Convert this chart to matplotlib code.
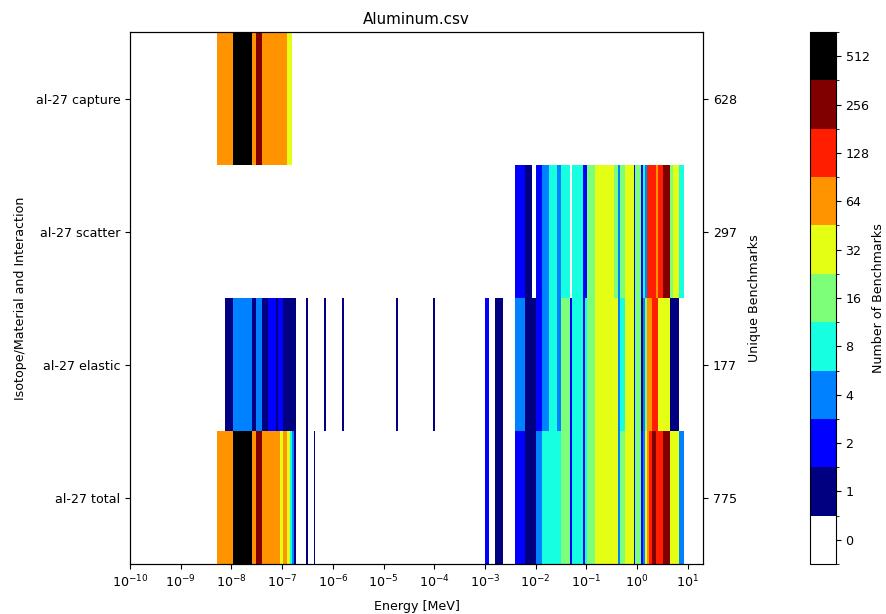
import numpy as np
import matplotlib
matplotlib.use("Agg")
from matplotlib import pyplot as plt
from matplotlib.colors import ListedColormap, BoundaryNorm
from matplotlib.ticker import LogLocator, NullLocator

plt.rcParams['font.size'] = 9.1

# rows from bottom to top
row_names = ["al-27 total", "al-27 elastic", "al-27 scatter", "al-27 capture"]
unique_benchmarks = ["775", "177", "297", "628"]

# energy bin edges [MeV] and benchmark counts per bin (0 = no data)
total_edges = [5.2e-9, 1.06e-8, 2.6e-8, 3.1e-8, 4.0e-8, 9.2e-8, 1.05e-7, 1.26e-7,
               1.45e-7, 1.58e-7, 1.73e-7, 1.89e-7, 3.0e-7, 3.3e-7, 4.2e-7, 4.5e-7,
               9.8e-4, 1.21e-3, 1.59e-3, 2.29e-3, 4.0e-3, 6.1e-3, 1.0e-2, 1.35e-2,
               3.1e-2, 4.7e-2, 5.1e-2, 8.7e-2, 9.2e-2, 0.101, 0.149, 0.43, 0.47,
               0.57, 0.86, 0.92, 1.21, 1.29, 1.41, 1.55, 1.70, 1.94, 2.38, 3.2,
               4.4, 6.6, 8.3]
total_counts = [80, 700, 90, 300, 90, 40, 70, 40, 10, 5, 1, 0, 1, 0, 1, 0,
                2, 0, 1, 0, 2, 1, 5, 10, 20, 2, 10, 2, 10, 20, 40, 5,
                20, 40, 2, 20, 2, 5, 40, 70, 150, 300, 150, 300, 40, 5]

elastic_edges = [7.6e-9, 1.06e-8, 2.6e-8, 3.1e-8, 4.0e-8, 5.3e-8, 7.6e-8, 8.4e-8,
                 1.05e-7, 1.85e-7, 3.0e-7, 3.3e-7, 6.8e-7, 7.4e-7, 1.53e-6, 1.68e-6,
                 1.79e-5, 1.96e-5, 9.6e-5, 1.05e-4, 9.8e-4, 1.21e-3, 1.59e-3, 2.29e-3,
                 4.0e-3, 6.1e-3, 1.0e-2, 1.35e-2, 1.80e-2, 2.6e-2, 3.1e-2, 4.7e-2,
                 5.1e-2, 8.7e-2, 9.2e-2, 0.101, 0.149, 0.43, 0.47, 0.57, 0.86, 0.92,
                 1.21, 1.29, 1.41, 1.55, 1.94, 2.61, 4.4, 6.6]
elastic_counts = [1, 5, 1, 5, 1, 2, 1, 2, 1, 0, 1, 0, 1, 0, 1, 0,
                  1, 0, 1, 0, 2, 0, 1, 0, 5, 1, 2, 5, 10, 5, 20, 2,
                  10, 2, 10, 20, 40, 5, 10, 40, 2, 20, 1, 5, 20, 70, 150, 40, 1]

scatter_edges = [4.0e-3, 6.1e-3, 8.3e-3, 1.0e-2, 1.35e-2, 1.80e-2, 2.6e-2, 3.1e-2,
                 4.7e-2, 5.3e-2, 8.7e-2, 0.101, 0.149, 0.345, 0.43, 0.47, 0.57,
                 0.86, 0.92, 1.21, 1.29, 1.41, 1.55, 2.38, 2.61, 3.2, 4.4, 5.05,
                 6.6, 8.3]
scatter_counts = [2, 1, 0, 2, 5, 10, 5, 10, 0, 10, 2, 20, 40, 20, 5, 20, 40,
                  2, 20, 2, 10, 5, 150, 70, 150, 300, 20, 40, 10]

capture_edges = [5.2e-9, 1.06e-8, 2.6e-8, 3.1e-8, 4.0e-8, 1.26e-7, 1.58e-7]
capture_counts = [80, 560, 90, 300, 90, 40]

rows_edges = [total_edges, elastic_edges, scatter_edges, capture_edges]
rows_counts = [total_counts, elastic_counts, scatter_counts, capture_counts]

level_labels = ["0", "1", "2", "4", "8", "16", "32", "64", "128", "256", "512"]

colors = ["white"] + [plt.cm.jet(v) for v in np.linspace(0, 1, 9)] + ["black"]
cmap = ListedColormap(colors)
norm = BoundaryNorm(np.arange(-0.5, 11.5), cmap.N)


def to_level(c):
    c = np.asarray(c, dtype=float)
    lev = np.zeros_like(c)
    nz = c > 0
    lev[nz] = np.minimum(np.floor(np.log2(c[nz])) + 1, 10)
    return lev


fig = plt.figure(figsize=(8.87, 6.14), dpi=100)
ax = fig.add_axes([0.1466, 0.0814, 0.646, 0.8664])

for i, (edges, counts) in enumerate(zip(rows_edges, rows_counts)):
    lev = to_level(counts)
    data = np.ma.masked_equal(lev, 0).reshape(1, -1)
    ax.pcolormesh(edges, [i, i + 1], data, cmap=cmap, norm=norm,
                  shading="flat", antialiased=False)

ax.set_xscale("log")
ax.set_xlim(1e-10, 20)
ax.xaxis.set_major_locator(LogLocator(base=10, numticks=30))
ax.xaxis.set_minor_locator(NullLocator())
ax.set_ylim(0, 4)
ax.set_yticks(np.arange(4) + 0.5)
ax.set_yticklabels(row_names)
ax.set_xlabel("Energy [MeV]", labelpad=7)
ax.set_ylabel("Isotope/Material and Interaction", labelpad=6)
ax.set_title("Aluminum.csv")

ax2 = ax.twinx()
ax2.set_ylim(0, 4)
ax2.set_yticks(np.arange(4) + 0.5)
ax2.set_yticklabels(unique_benchmarks)
ax2.set_ylabel("Unique Benchmarks", labelpad=8)

cax = fig.add_axes([0.913, 0.0814, 0.0293, 0.8664])
sm = plt.cm.ScalarMappable(cmap=cmap, norm=norm)
cb = fig.colorbar(sm, cax=cax, ticks=np.arange(11))
cb.ax.set_yticklabels(level_labels)
cb.set_label("Number of Benchmarks", labelpad=2)

fig.savefig("out.png", dpi=100)
